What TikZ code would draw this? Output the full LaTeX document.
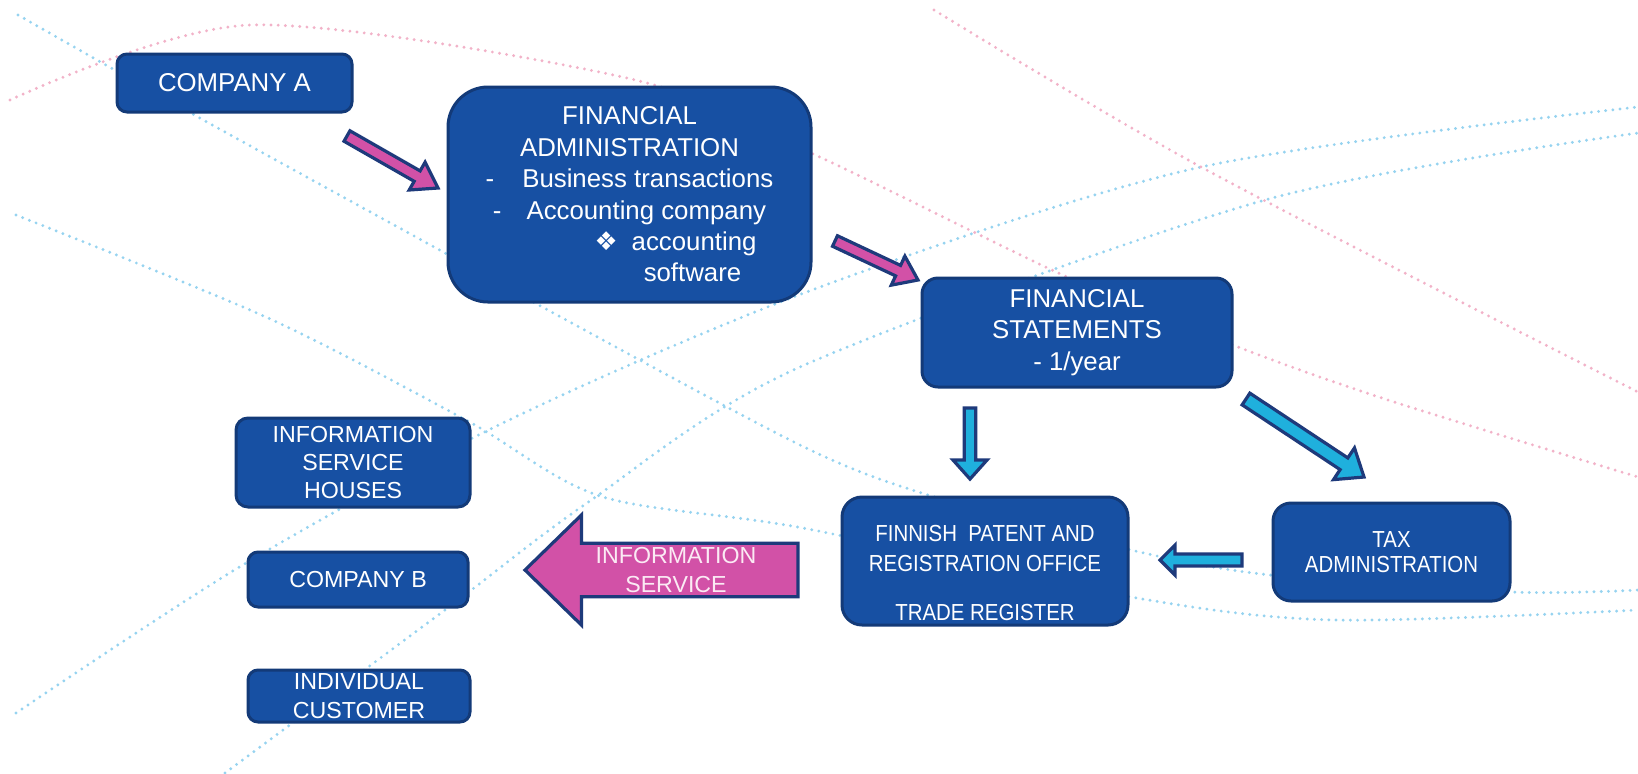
\documentclass[tikz,border=0pt]{standalone}
\usepackage{fontspec}
\setmainfont{Liberation Sans}
\newfontfamily\narrowfont[FakeStretch=0.88]{Liberation Sans}
\newfontfamily\dingfont{DejaVu Sans}
\usetikzlibrary{calc}
\definecolor{boxblue}{HTML}{1750A3}
\definecolor{boxline}{HTML}{133A78}
\definecolor{arrowline}{HTML}{1E3A7B}
\definecolor{arrowpink}{HTML}{D251A7}
\definecolor{arrowcyan}{HTML}{1FB0DD}
\definecolor{dotblue}{HTML}{96D3F0}
\definecolor{dotpink}{HTML}{F2B2C8}
\definecolor{infowhite}{HTML}{FBEAF4}
\newcommand{\BlockArrow}[6]{%
  \coordinate (hb) at ($(#2)!#5!(#1)$);
  \draw[fat, fill=#6] ($(#1)!#3!90:(#2)$) -- ($(hb)!#3!90:(#2)$) -- ($(hb)!#4!90:(#2)$) -- (#2)
    -- ($(hb)!#4!-90:(#2)$) -- ($(hb)!#3!-90:(#2)$) -- ($(#1)!#3!-90:(#2)$) -- cycle;
}

\begin{document}
\begin{tikzpicture}[x=0.5pt, y=-0.5pt,
    box/.style={draw=boxline, fill=boxblue, line width=1.5pt, text=white, align=center, inner sep=0pt},
    bigtext/.style={font=\fontsize{12.9}{15.7}\selectfont},
    midtext/.style={font=\fontsize{11.6}{14.2}\selectfont},
    smalltext/.style={font=\narrowfont\fontsize{11.6}{15}\selectfont},
    fat/.style={draw=arrowline, line width=1.6pt, line join=miter},
    dotline/.style={line width=1.6pt, line cap=round, dash pattern=on 0pt off 3.6pt}]

    \path[fill=white, use as bounding box] (0,0) rectangle (1638,773);

    \draw[dotline, dotblue] plot[smooth] coordinates {(18,15) (198,117) (445,253) (535,303) (800,445) (928,495) (1131,550) (1270,575) (1511,592) (1638,590)};
    \draw[dotline, dotblue] plot[smooth] coordinates {(16,215) (268,318) (466,420) (600,496) (803,528) (1131,597) (1334,620) (1638,610)};
    \draw[dotline, dotblue] plot[smooth] coordinates {(16,713) (246,563) (509,420) (820,287) (1201,167) (1638,107)};
    \draw[dotline, dotblue] plot[smooth] coordinates {(225,773) (445,610) (587,503) (800,367) (1265,200) (1638,133)};
    \draw[dotline, dotpink] plot[smooth] coordinates {(10,100) (250,25) (627,78) (811,153) (1067,277) (1238,347) (1388,400) (1638,477)};
    \draw[dotline, dotpink] plot[smooth] coordinates {(934,10) (1201,167) (1638,392)};

    \draw(234.5,83) node[box, bigtext, rounded corners=5pt, minimum width=117.5pt, minimum height=29pt] (compa) {COMPANY A};
    \draw(629.5,194.5) node[box, bigtext, rounded corners=20pt, minimum width=181.5pt, minimum height=107.5pt] (finadm)
        {FINANCIAL\\ADMINISTRATION\\-\hspace{14pt}Business transactions\\-\hspace{12.5pt}Accounting company\\
         \hspace*{46pt}{\dingfont ❖}\hspace{7pt}accounting\\\hspace*{63pt}software};
    \draw(1077,332.5) node[box, bigtext, rounded corners=8pt, minimum width=155pt, minimum height=54.5pt] (finstat)
        {FINANCIAL\\STATEMENTS\\- 1/year};
    \draw(353,462.5) node[box, midtext, rounded corners=6pt, minimum width=117pt, minimum height=44.5pt] (ishouses)
        {INFORMATION\\SERVICE\\HOUSES};
    \draw(358,579.5) node[box, midtext, rounded corners=5pt, minimum width=110pt, minimum height=27.5pt] (compb) {COMPANY B};
    \draw(359,696) node[box, midtext, rounded corners=5pt, minimum width=111pt, minimum height=26pt] (indiv)
        {INDIVIDUAL\\CUSTOMER};
    \draw(985,561) node[box, smalltext, rounded corners=10pt, minimum width=143pt, minimum height=64pt] (prh)
        {\rule{0pt}{20.3pt}FINNISH\ \ PATENT AND\\REGISTRATION OFFICE\\[9.5pt]TRADE REGISTER};
    \draw(1391.5,552) node[box, smalltext, rounded corners=9pt, minimum width=118.5pt, minimum height=49pt] (tax)
        {TAX\\[-2.3pt]ADMINISTRATION};

    \coordinate (p1a) at (347,136);
    \coordinate (p1b) at (438,188);
    \coordinate (p2a) at (835,241);
    \coordinate (p2b) at (918,280);
    \coordinate (c1a) at (970,408);
    \coordinate (c1b) at (970,479);
    \coordinate (c2a) at (1246,399);
    \coordinate (c2b) at (1364,477);
    \coordinate (c3a) at (1242,560);
    \coordinate (c3b) at (1160,560);
    \coordinate (isa) at (798,570);
    \coordinate (isb) at (525,570);

    \BlockArrow{p1a}{p1b}{3pt}{8pt}{12pt}{arrowpink}
    \BlockArrow{p2a}{p2b}{2.9pt}{8pt}{11pt}{arrowpink}
    \BlockArrow{c1a}{c1b}{2.9pt}{8.5pt}{9.5pt}{arrowcyan}
    \BlockArrow{c2a}{c2b}{3.5pt}{9.5pt}{12pt}{arrowcyan}
    \BlockArrow{c3a}{c3b}{3pt}{7.5pt}{7.5pt}{arrowcyan}
    \BlockArrow{isa}{isb}{13.4pt}{27.5pt}{28.2pt}{arrowpink}

    \draw(676,570) node[midtext, text=infowhite, align=center] (isvc) {INFORMATION\\SERVICE};

\end{tikzpicture}
\end{document}
